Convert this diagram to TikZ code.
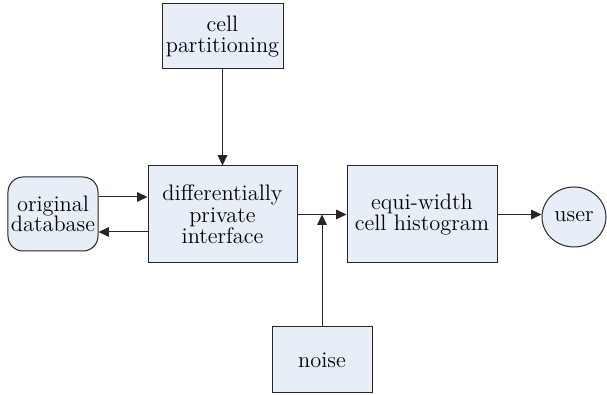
\documentclass[tikz,border=0pt]{standalone}
\usetikzlibrary{arrows.meta,shapes.geometric}
\definecolor{boxfill}{HTML}{E8EEF7}
\begin{document}
\begin{tikzpicture}[x=0.5pt,y=-0.5pt,
  box/.style={draw=black!85,fill=boxfill,line width=0.5pt,align=center,inner sep=0pt,
    font=\fontsize{11.2}{10.8}\selectfont},
  arr/.style={draw=black!85,line width=0.5pt,-{Triangle[length=5.2pt,width=4.8pt]}}]
\useasboundingbox (0,0) rectangle (607,395);
\node[box,minimum width=60.5pt,minimum height=32.5pt] (cp) at (222.5,36.5) {cell\\partitioning};
\node[box,minimum width=74.5pt,minimum height=48.5pt] (dpi) at (222.5,214.5) {differentially\\private\\interface};
\node[box,minimum width=75pt,minimum height=48.5pt] (hist) at (422,214.5) {equi-width\\cell histogram};
\node[box,minimum width=50pt,minimum height=33pt] (noise) at (322,360) {noise};
\node[box,rounded corners=7.5pt,minimum width=45pt,minimum height=37pt,font=\fontsize{11.2}{10.2}\selectfont] (db) at (53,214) {original\\database};
\node[box,ellipse,minimum width=32pt,minimum height=30pt] (user) at (574,217) {user};
\coordinate (j) at (322,214.5);
\draw[arr] (cp.south) -- (dpi.north);
\draw[arr] (db.east |- 0,197) -- (dpi.west |- 0,197);
\draw[arr] (dpi.west |- 0,232) -- (db.east |- 0,232);
\draw[arr] (dpi.east) -- (hist.west);
\draw[arr] (noise.north) -- (j);
\draw[arr] (hist.east) -- (user.west |- hist.east);
\end{tikzpicture}
\end{document}
